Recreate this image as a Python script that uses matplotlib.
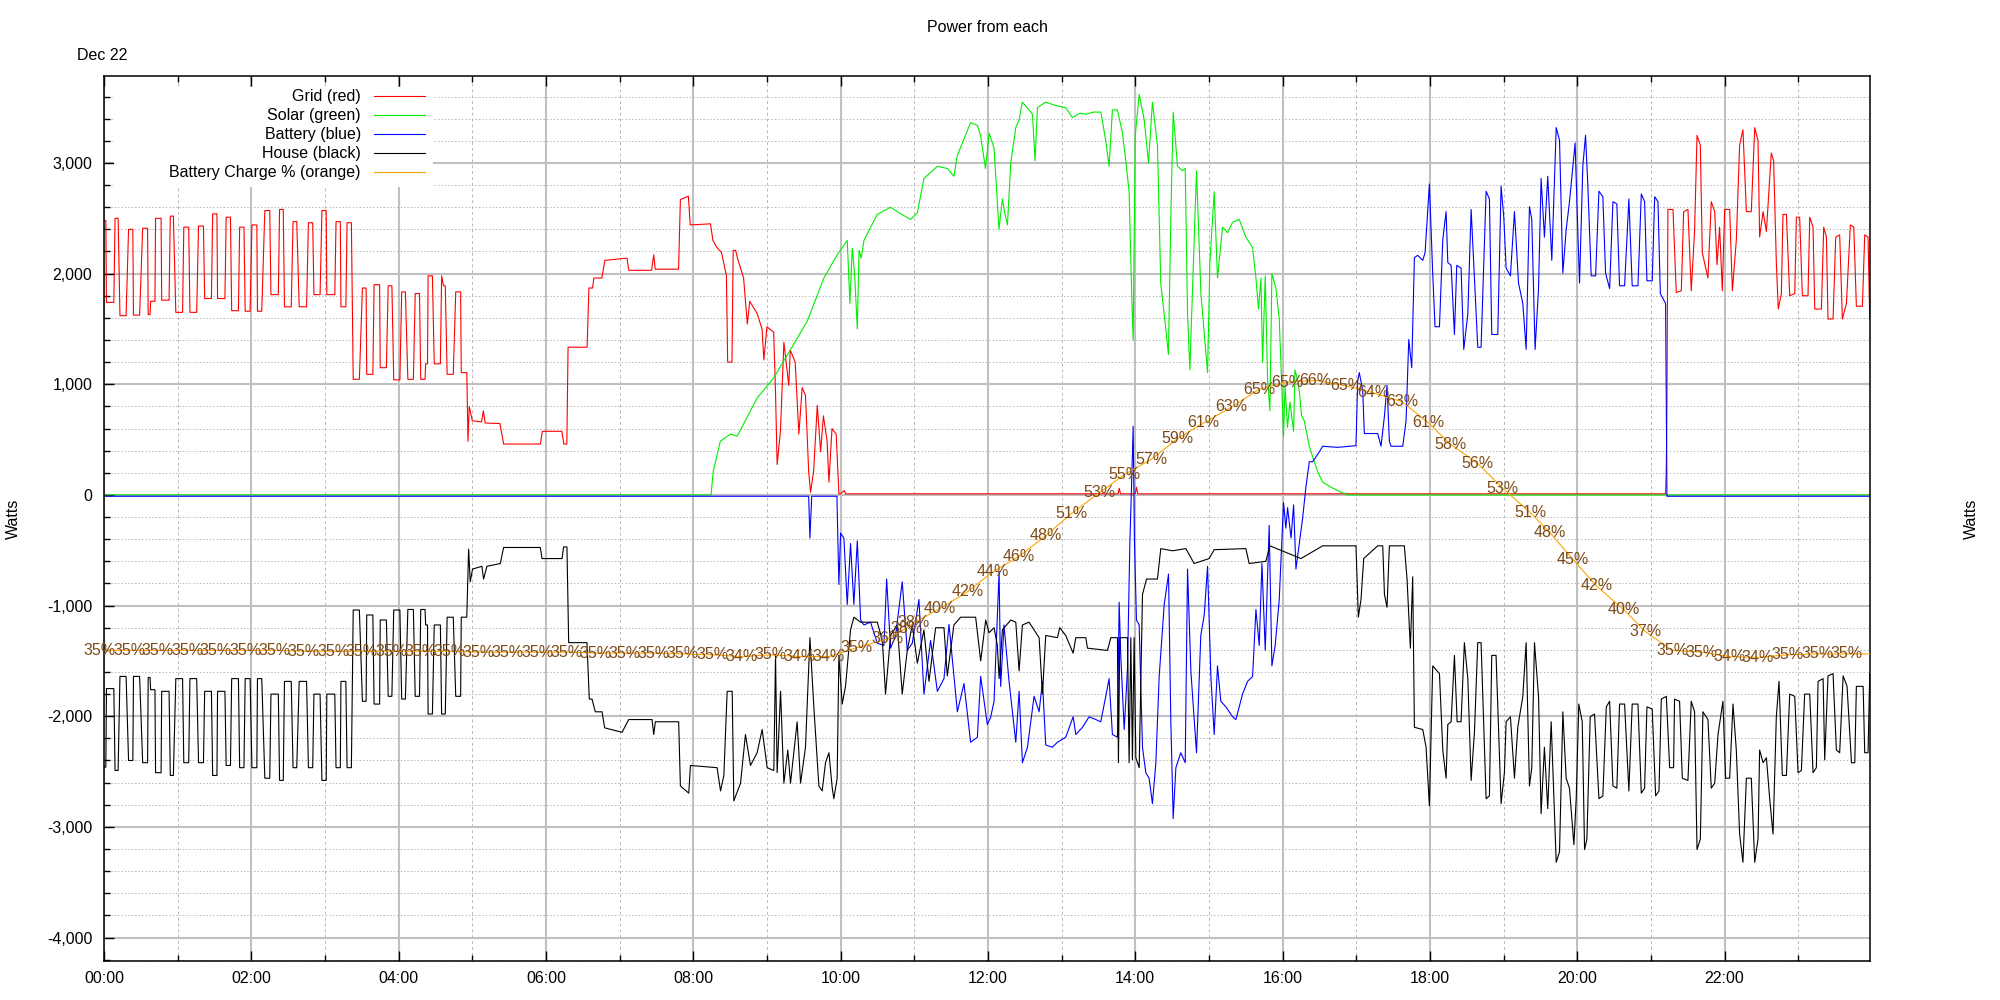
import numpy as np
import matplotlib.pyplot as plt
from matplotlib.ticker import MultipleLocator, FuncFormatter
from matplotlib.patches import Rectangle

plt.rcParams['font.family'] = ['Liberation Sans', 'DejaVu Sans']
plt.rcParams['font.size'] = 11.5

# power series: (minute of day, watts)
grid_pts = [
    (0, 2480), (1.5, 2480), (2, 1740), (8, 1740), (9, 2500), (11.5, 2500), (13, 1620), (18, 1620),
    (20, 2400), (23.5, 2400), (24, 1625), (29, 1625), (31.5, 2410), (35.5, 2410), (36, 1630), (37.5, 1630),
    (38, 1750), (41.5, 1750), (42, 2500), (46.5, 2500), (47, 1760), (53, 1760), (54, 2520), (56.5, 2520),
    (58.5, 1650), (64, 1650), (65, 2420), (69, 2420), (70, 1650), (75.5, 1650), (77, 2430), (81, 2430),
    (82, 1775), (87.5, 1775), (88.5, 2540), (92, 2540), (92.5, 1775), (98.5, 1775), (99.5, 2510), (103, 2510),
    (104, 1665), (109.5, 1665), (110.5, 2420), (114, 2420), (115, 1660), (119, 1660), (120.5, 2440), (124.5, 2440),
    (125, 1660), (128.5, 1660), (131, 2570), (135, 2570), (136, 1810), (142, 1810), (143, 2580), (146, 2580),
    (147, 1700), (152.5, 1700), (154, 2470), (157, 2470), (159, 1700), (165, 1700), (166.5, 2460), (170, 2460),
    (171, 1810), (176, 1810), (177.5, 2570), (181, 2570), (181.5, 1810), (188, 1810), (189, 2470), (192.5, 2470),
    (193, 1700), (197, 1700), (198, 2460), (201.5, 2460), (203, 1045), (208, 1045), (210.5, 1870), (213.5, 1870),
    (214, 1090), (219, 1090), (220, 1900), (224.5, 1900), (225, 1150), (230, 1150), (231.5, 1890), (234.5, 1890),
    (236, 1040), (241, 1040), (242.5, 1835), (245.5, 1835), (247.5, 1045), (252, 1045), (253.5, 1820), (257, 1820),
    (258, 1045), (261.5, 1045), (262, 1185), (263.5, 1185), (264, 1980), (267.5, 1980), (269, 1185), (274, 1185),
    (275, 1980), (276.5, 1890), (278, 1890), (279.5, 1090), (284.5, 1090), (286.5, 1835), (290.5, 1835), (291, 1105),
    (295.5, 1105), (296.5, 485), (297.5, 800), (300, 670), (307.5, 660), (309, 760), (310.5, 650), (322.5, 645),
    (325.5, 460), (355.5, 460), (357, 575), (373, 575), (374.5, 460), (377, 460), (378, 1335), (393.5, 1335),
    (395, 1870), (398, 1870), (399, 1960), (405.5, 1960), (408, 2120), (426, 2140), (427.5, 2030), (446, 2030),
    (447.8, 2170), (449, 2040), (468, 2040), (469.5, 2670), (476, 2700), (477.5, 2440), (494, 2450), (496, 2300),
    (499, 2240), (503, 2190), (507, 1980), (508, 1200), (511.5, 1200), (512.5, 2210), (514.5, 2210), (516, 2140),
    (521, 1960), (524, 1545), (526, 1750), (532, 1640), (536, 1500), (537.5, 1220), (540, 1520), (545.5, 1470),
    (547, 920), (548.3, 275), (551, 575), (553.8, 1380), (557.8, 990), (559, 1310), (563, 1200), (566, 550),
    (568.7, 970), (571.4, 900), (574, 210), (575.5, 25), (578, 210), (581, 810), (583.7, 390), (586, 715),
    (589, 485), (590.5, 115), (593, 600), (596.4, 550), (598.6, 10), (600, 10), (603, 40), (604, 10),
    (826, 10), (827, 60), (828, 10), (840, 10), (841, 70), (842, 10), (1272, 10),
    (1272.6, 275), (1273.1, 830), (1273.9, 2580), (1278, 2580), (1280.7, 1830), (1284.8, 1845), (1286.7, 2560),
    (1290.2, 2580), (1292.9, 1845), (1295.6, 2380), (1297.6, 3250), (1300.3, 3160), (1301.9, 2190), (1306.5, 1960),
    (1309.2, 2650), (1312, 2560), (1313.9, 2080), (1316, 2420), (1318.2, 1845), (1320.1, 2580), (1324.2, 2580),
    (1326.4, 1845), (1329.6, 2300), (1332.3, 3160), (1335, 3300), (1337.8, 2560), (1341.8, 2560), (1344.6, 3320),
    (1347.3, 3200), (1348.6, 2330), (1351.4, 2560), (1354.1, 2380), (1358.1, 3090), (1360, 3020), (1362.2, 2100),
    (1363.8, 1680), (1366.3, 1820), (1367.6, 2535), (1370.4, 2535), (1373.1, 1800), (1377.2, 1820), (1378.5, 2510),
    (1381.2, 2510), (1383.4, 1800), (1388, 1800), (1389.4, 2510), (1392.1, 2420), (1393.5, 1680), (1398.9, 1680),
    (1400.8, 2420), (1403, 2330), (1404.3, 1590), (1408.4, 1590), (1410.6, 2330), (1413.8, 2350), (1416, 1590),
    (1419.3, 1730), (1422.5, 2440), (1425.3, 2420), (1427.4, 1705), (1432.3, 1705), (1434.2, 2350), (1436.9, 2330),
    (1438.3, 1590), (1440, 1590),
]

solar_pts = [
    (0, 0), (494.5, 0), (496.2, 210), (502, 485), (510.3, 550), (515.7, 530), (532, 875), (545.6, 1060),
    (559, 1310), (572.8, 1570), (586.4, 1960), (597.2, 2170), (605.4, 2300), (607.6, 1730), (609.5, 2230),
    (611.4, 2000), (613.6, 1500), (615, 2210), (616.8, 2140), (619, 2300), (629.8, 2535), (640.7, 2600),
    (647.5, 2550), (657, 2490), (662.5, 2550), (667.9, 2860), (678.8, 2970), (687, 2950), (692.3, 2880),
    (695, 3065), (705.9, 3365), (711.4, 3340), (714, 3250), (718, 2950), (721, 3270), (725, 3135), (729, 2400),
    (731.8, 2675), (733.5, 2560), (735.9, 2440), (738.6, 3000), (742.7, 3320), (745.4, 3390), (748, 3550),
    (753.5, 3480), (756.3, 3440), (758.4, 3020), (760.3, 3500), (767, 3550), (775, 3520), (783.4, 3500),
    (788.8, 3410), (795, 3450), (799.7, 3440), (806, 3460), (812, 3460), (816, 3200), (818.7, 2970),
    (821.4, 3480), (825.5, 3480), (829.6, 3270), (832.3, 3020), (835, 2740), (837.2, 1775), (838.3, 1400),
    (840, 3250), (843.2, 3620), (847.3, 3390), (850.8, 3000), (854, 3550), (858.1, 3160), (860.8, 1910),
    (864.9, 1500), (867, 1270), (869, 2510), (870.9, 3460), (874.4, 2970), (878.5, 2930), (880.7, 2950),
    (882.6, 1640), (884.5, 1130), (886.7, 1870), (889.9, 2930), (893.5, 1820), (898.9, 1105), (900.8, 2100),
    (904.3, 2740), (907, 1960), (911.1, 2420), (915.2, 2370), (919.3, 2465), (924.7, 2490), (930.1, 2330),
    (935.6, 2235), (938.3, 1960), (940.4, 1680), (942.4, 1960), (943.7, 1200), (945.9, 1980), (947.8, 1040),
    (949.7, 760), (951.3, 2000), (954.6, 1870), (957.3, 1590), (959.5, 945), (960.8, 530), (962, 990),
    (964, 610), (966, 840), (969, 575), (970.1, 1130), (971.7, 1060), (973.6, 945), (975.5, 715), (977.7, 670),
    (981.8, 440), (984.5, 345), (988.6, 210), (992.7, 115), (999.5, 70), (1007.6, 25), (1013, 0), (1440, 0),
]

batt_pts = [
    (0, -12), (574, -12), (575, -390), (576.5, -12), (597, -12), (598.6, -810), (600, -345), (602.7, -390),
    (605.4, -990), (608.1, -440), (610.8, -990), (613.6, -415), (616.3, -1130), (619, -1175), (624.4, -1150),
    (629.9, -1340), (635.3, -1360), (637.5, -760), (640.7, -1385), (644.8, -1270), (650.2, -785), (654.3, -1405),
    (658.4, -1340), (663.8, -945), (667.9, -1800), (673.3, -1315), (678.8, -1775), (684.2, -1660), (688.3, -1170),
    (695.1, -1960), (700.5, -1705), (705.9, -2235), (711.4, -2190), (714.1, -1640), (719.5, -2075), (722.2, -2010),
    (725, -1865), (729.1, -690), (730.4, -1730), (733.1, -1175), (737.2, -1685), (742.7, -2235), (745.4, -1775),
    (748.1, -2420), (752.2, -2280), (757.6, -1820), (761.7, -1960), (764.4, -1685), (767.1, -2260), (772.5, -2280),
    (776.6, -2235), (783.4, -2190), (789.4, -2005), (791.6, -2165), (797, -2100), (802.4, -2005), (807.9, -2030),
    (811.9, -2050), (816, -1820), (818.7, -1660), (821.4, -2165), (825.5, -2190), (826.9, -970), (828.2, -1450),
    (831, -2120), (833.7, -1565), (835.6, -440), (837.2, 160), (838.3, 620), (839.4, -440), (841, -1130),
    (843.2, -1175), (845.9, -2280), (848.6, -2510), (851.3, -2560), (854, -2790), (856.8, -2420), (859.5, -1640),
    (863.6, -990), (867.1, -715), (869, -2050), (870.9, -2925), (873.1, -2465), (877.1, -2330), (880.7, -2420),
    (882.6, -670), (885.3, -1590), (889.9, -2330), (893.4, -1270), (896.2, -1085), (898.9, -645), (901.6, -1640),
    (904.3, -2165), (907, -1545), (909.7, -1865), (913.8, -1915), (919.3, -2005), (922, -2030), (927.4, -1800),
    (931.5, -1685), (935.6, -1640), (938.3, -1035), (941, -1360), (943.2, -620), (945.9, -1405), (949.1, -275),
    (951.3, -1545), (954, -1360), (957.3, -945), (960.8, -70), (962.7, -300), (964.1, -115), (966.9, -390),
    (969, -90), (970.9, -670), (973.6, -440), (976.4, -205), (979, 70), (981.8, 300), (984.5, 300), (987.2, 345),
    (990, 390), (992.7, 440), (1004.9, 430), (1019.8, 445), (1021.2, 1035), (1022.5, 1105), (1025.3, 945),
    (1026.6, 555), (1037.5, 555), (1040.2, 440), (1043, 715), (1045.1, 990), (1047, 485), (1048.4, 440),
    (1057.9, 440), (1060.6, 670), (1062.8, 1405), (1065.2, 1150), (1067.4, 2145), (1070.1, 2165), (1074.2, 2120),
    (1076.1, 2190), (1078.2, 2560), (1079.6, 2810), (1082.3, 2005), (1084.2, 1520), (1087.8, 1520), (1090.5, 2305),
    (1093.2, 2560), (1094.6, 2100), (1097.3, 2075), (1100, 1450), (1101.9, 2075), (1105.4, 2050), (1107.6, 1315),
    (1110.9, 1635), (1113.6, 2580), (1115.7, 2100), (1119, 1335), (1121.7, 1335), (1125.8, 2745), (1128.5, 2675),
    (1130.4, 1450), (1135.3, 1450), (1138, 2790), (1140.2, 2510), (1142.1, 2050), (1145.6, 1980), (1148.9, 2560),
    (1152.2, 1915), (1155.7, 1730), (1158.4, 1315), (1161.1, 2605), (1163, 2490), (1165.7, 1315), (1168.5, 1865),
    (1170.6, 2860), (1173.3, 2330), (1176, 2880), (1179.3, 2120), (1182.9, 3320), (1185.6, 3205), (1188.3, 2005),
    (1191, 2395), (1193.7, 2650), (1198.3, 3180), (1200.5, 2375), (1201.9, 1915), (1204.6, 2975), (1206.8, 3250),
    (1208.7, 2790), (1211.4, 1980), (1215, 1980), (1217.7, 2745), (1220.9, 2695), (1223.1, 2005), (1226.4, 1865),
    (1229.1, 2650), (1232.3, 2630), (1234.5, 1890), (1238.6, 1890), (1242.1, 2675), (1244.8, 1890), (1249.5, 1890),
    (1252.2, 2720), (1254.9, 2650), (1256.8, 1935), (1261.1, 1935), (1263.1, 2695), (1265.8, 2650), (1267.7, 1820),
    (1272, 1730), (1273.1, -12), (1440, -12),
]

house_pts = [
    (0, -2460), (1.5, -2460), (2, -1750), (8, -1750), (9, -2490), (11.5, -2490), (13, -1640), (18, -1640),
    (20, -2400), (23.5, -2400), (24, -1640), (29, -1640), (31.5, -2420), (35.5, -2420), (36, -1650), (37.5, -1650),
    (38, -1760), (41.5, -1760), (42, -2510), (46.5, -2510), (47, -1775), (53, -1775), (54, -2535), (56.5, -2535),
    (58.5, -1660), (64, -1660), (65, -2420), (69, -2420), (70, -1660), (75.5, -1660), (77, -2420), (81, -2420),
    (82, -1775), (87.5, -1775), (88.5, -2535), (92, -2535), (92.5, -1775), (98.5, -1775), (99.5, -2445), (103, -2445),
    (104, -1660), (109.5, -1660), (110.5, -2465), (114, -2465), (115, -1660), (119, -1660), (120.5, -2465), (124.5, -2465),
    (125, -1660), (128.5, -1660), (131, -2560), (135, -2560), (136, -1800), (142, -1800), (143, -2580), (146, -2580),
    (147, -1685), (152.5, -1685), (154, -2465), (157, -2465), (159, -1685), (165, -1685), (166.5, -2465), (170, -2465),
    (171, -1800), (176, -1800), (177.5, -2580), (181, -2580), (181.5, -1800), (188, -1800), (189, -2465), (192.5, -2465),
    (193, -1685), (197, -1685), (198, -2465), (201.5, -2465), (203, -1040), (208, -1040), (210.5, -1865), (213.5, -1865),
    (214, -1085), (219, -1085), (220, -1890), (224.5, -1890), (225, -1130), (230, -1130), (231.5, -1820), (234.5, -1820),
    (236, -1040), (241, -1040), (242.5, -1845), (245.5, -1845), (247.5, -1035), (252, -1035), (253.5, -1820), (257, -1820),
    (258, -1035), (261.5, -1035), (262, -1175), (263.5, -1175), (264, -1980), (267.5, -1980), (269, -1175), (274, -1175),
    (275, -1980), (278, -1980), (279.5, -1105), (284.5, -1105), (286.5, -1820), (290.5, -1820), (291, -1105), (295.5, -1105),
    (297, -490), (298.3, -785), (300.2, -670), (307.8, -645), (309.2, -760), (311.9, -645), (322.8, -620), (325.5, -475),
    (355.4, -475), (356.8, -575), (373.1, -575), (374.4, -470), (377.1, -470), (378.5, -1335), (393.4, -1335), (395.3, -1845),
    (397.5, -1845), (400.2, -1960), (405.7, -1960), (407.8, -2105), (422, -2145), (427.4, -2030), (446.4, -2030), (447.8, -2165),
    (449.1, -2050), (468.1, -2050), (469.5, -2630), (476.3, -2695), (477.7, -2445), (499.4, -2465), (502.2, -2675), (504.9, -2535),
    (507.6, -1775), (511.7, -1775), (513, -2765), (518.5, -2605), (522.5, -2165), (526.6, -2445), (532, -2330), (536.1, -2120),
    (540.2, -2465), (545.6, -2490), (547, -1450), (548.3, -2510), (551.1, -1775), (553.8, -2605), (557, -2305), (559.2, -2605),
    (564.6, -2050), (567.4, -2605), (571.4, -2280), (575, -1290), (578.2, -1915), (582.3, -2630), (585, -2675), (587.7, -2420),
    (590.5, -2330), (593.2, -2650), (594.5, -2745), (597.2, -2560), (598.6, -1450), (601.3, -1890), (604, -1730), (608.1, -1220),
    (610.8, -1105), (616.3, -1150), (629.9, -1150), (634, -1315), (636.6, -1800), (640.7, -1270), (646.2, -1175), (650.2, -1800),
    (654.3, -1405), (658.4, -1175), (662.5, -1520), (667.9, -1220), (672, -1685), (677.4, -1200), (684.2, -1200), (686.9, -1635),
    (692.3, -1175), (697.8, -1105), (710, -1105), (714.1, -1500), (718.2, -1130), (720.9, -1245), (725, -1200), (727.7, -1360),
    (729.1, -1660), (731.8, -1220), (738.6, -1130), (742.7, -1150), (745.4, -1590), (748.1, -1175), (753.5, -1150), (761.7, -1290),
    (764.4, -1800), (767.1, -1270), (776.6, -1290), (778.5, -1200), (783.4, -1270), (789.4, -1430), (791.6, -1290), (799.7, -1290),
    (801.1, -1385), (817.4, -1405), (820.1, -1290), (825.5, -1290), (826.3, -2420), (827.4, -1290), (833.7, -1290), (835, -2420),
    (836.4, -1290), (837.7, -2395), (839.1, -1290), (840.5, -2375), (843.2, -2465), (845.9, -900), (849.2, -760), (858.1, -760),
    (860.8, -485), (870.4, -505), (881.2, -485), (888, -620), (900.2, -575), (904.3, -495), (930.1, -485), (932.8, -620),
    (946.4, -600), (949.7, -460), (975, -575), (992.7, -460), (1019.8, -460), (1021.7, -1105), (1023.9, -945), (1026.1, -575),
    (1037.5, -460), (1041.6, -460), (1043, -900), (1045.1, -1015), (1047, -460), (1059.2, -460), (1061.4, -760), (1064.1, -1385),
    (1066, -740), (1067.4, -2100), (1074.2, -2120), (1076.9, -2280), (1079.6, -2810), (1082.3, -1545), (1087.8, -1615), (1090.5, -2305),
    (1093.2, -2560), (1094.6, -2075), (1097.3, -2050), (1100, -1450), (1102.2, -2050), (1105.4, -2050), (1108.1, -1335), (1110.9, -1660),
    (1113.6, -2580), (1116.3, -2145), (1119, -1335), (1121.7, -1335), (1125.8, -2745), (1128.5, -2720), (1130.4, -1450), (1133.9, -1450),
    (1138, -2790), (1140.7, -2510), (1142.1, -2050), (1145.6, -2005), (1148.9, -2560), (1151.6, -2100), (1155.7, -1820), (1158.4, -1335),
    (1161.1, -2630), (1163, -2465), (1165.2, -1335), (1168.5, -1820), (1170.6, -2880), (1173.3, -2280), (1176, -2835), (1178.8, -2050),
    (1182.9, -3320), (1185.6, -3225), (1188.3, -1960), (1191, -2560), (1193.7, -2650), (1197.3, -3160), (1199.2, -2745), (1201.3, -1890),
    (1204.1, -2050), (1206, -3205), (1207.9, -3110), (1210.6, -2005), (1214.1, -1980), (1217.7, -2745), (1220.9, -2720), (1223.7, -1915),
    (1226.4, -1865), (1229.1, -2630), (1232.3, -2650), (1234.5, -1890), (1238.6, -1890), (1242.1, -2675), (1244.8, -1890), (1249.5, -1890),
    (1252.2, -2695), (1254.9, -2650), (1256.8, -1915), (1261.1, -1935), (1263.9, -2720), (1266.6, -2675), (1268.5, -1845), (1272.6, -1820),
    (1275.3, -2465), (1278.5, -2465), (1279.3, -1845), (1283.4, -1865), (1285.6, -2560), (1290.2, -2580), (1292.9, -1865), (1295.6, -1960),
    (1297.6, -3205), (1300.3, -3110), (1302.4, -1960), (1306.5, -2030), (1309.2, -2650), (1312, -2605), (1314.7, -2165), (1317.4, -1960),
    (1318.7, -1865), (1320.9, -2560), (1324.2, -2560), (1326.9, -1890), (1329.6, -2305), (1332.3, -3065), (1335, -3320), (1337.8, -2560),
    (1341.8, -2560), (1344.6, -3320), (1347.3, -3110), (1348.6, -2305), (1351.4, -2420), (1354.1, -2375), (1356.8, -2745), (1359.5, -3065),
    (1362.2, -2005), (1364.4, -1685), (1367.1, -2535), (1370.4, -2535), (1373.1, -1800), (1377.2, -1820), (1379.9, -2510), (1382.6, -2490),
    (1385.3, -1800), (1389.4, -1800), (1392.1, -2510), (1394.8, -2465), (1396.2, -1685), (1400.3, -1660), (1401.6, -2395), (1404.3, -1635),
    (1408.4, -1615), (1411.1, -2305), (1413.8, -2330), (1416.6, -1635), (1419.8, -1730), (1423.4, -2420), (1426.1, -2420), (1427.4, -1730),
    (1432.9, -1730), (1434.2, -2330), (1436.9, -2330), (1438.3, -1615), (1440, -1635),
]

# battery charge: hour of day, percent (last point unlabelled)
charge_h = [-0.06, 0.34, 0.73, 1.13, 1.52, 1.92, 2.32, 2.71, 3.11, 3.50, 3.90, 4.30, 4.69, 5.09,
            5.48, 5.88, 6.28, 6.67, 7.07, 7.46, 7.86, 8.26, 8.65, 9.05, 9.44, 9.84, 10.22,
            10.64, 10.89, 10.99, 11.34, 11.72, 12.07, 12.42, 12.79, 13.14, 13.51, 13.86, 14.22,
            14.57, 14.93, 15.31, 15.68, 16.06, 16.45, 16.86, 17.23, 17.62, 17.98, 18.28, 18.65,
            18.99, 19.36, 19.63, 19.94, 20.26, 20.63, 20.93, 21.29, 21.69, 22.07, 22.45, 22.85,
            23.26, 23.65, 24.05]
charge_pct = [35.1, 35.1, 35.1, 35.1, 35.1, 35.1, 35.1, 35.0, 35.0, 35.0, 35.0, 35.0, 35.0, 34.9,
              34.9, 34.9, 34.9, 34.8, 34.8, 34.8, 34.7, 34.6, 34.4, 34.6, 34.4, 34.4, 35.4,
              36.4, 37.6, 38.2, 39.8, 41.7, 44.0, 45.7, 48.1, 50.6, 52.9, 55.0, 56.7,
              59.0, 60.8, 62.6, 64.6, 65.4, 65.6, 65.0, 64.2, 63.2, 60.8, 58.4, 56.2,
              53.4, 50.7, 48.4, 45.4, 42.4, 39.7, 37.2, 35.1, 34.9, 34.4, 34.3, 34.6,
              34.7, 34.7, 34.7]

series = [
    (grid_pts, '#ff0000', 'Grid (red)'),
    (solar_pts, '#00ee00', 'Solar (green)'),
    (batt_pts, '#0000ff', 'Battery (blue)'),
    (house_pts, '#000000', 'House (black)'),
]
charge_color = '#ffa500'
label_color = '#7d4a17'

fig = plt.figure(figsize=(20, 10), dpi=100)
ax = fig.add_axes([0.052, 0.039, 0.883, 0.885])

for pts, col, lab in series:
    t, w = zip(*pts)
    ax.plot(t, w, color=col, lw=0.8, zorder=2)

ax.set_xlim(0, 1438.5)
ax.set_ylim(-4212, 3786)
ax.xaxis.set_major_locator(MultipleLocator(120))
ax.xaxis.set_minor_locator(MultipleLocator(60))
ax.xaxis.set_major_formatter(FuncFormatter(lambda v, p: '%02d:00' % (v // 60)))
ax.yaxis.set_major_locator(MultipleLocator(1000))
ax.yaxis.set_minor_locator(MultipleLocator(200))
ax.yaxis.set_major_formatter(FuncFormatter(lambda v, p: f'{v:,.0f}'))

ax.set_axisbelow(True)
ax.grid(which='major', color='#c0c0c0', lw=1.5, ls='-')
ax.grid(which='minor', axis='y', color='#b8b8b8', lw=0.7, ls=(0, (1.5, 2)))
ax.grid(which='minor', axis='x', color='#b8b8b8', lw=0.7, ls=(0, (3, 3)))
ax.tick_params(which='both', direction='in', top=True, right=True, labelright=True, width=1)
ax.tick_params(which='major', length=7.5)
ax.tick_params(which='minor', length=4)
ax.tick_params(axis='y', pad=8.5)
ax.tick_params(axis='x', pad=7)
for s in ax.spines.values():
    s.set_linewidth(1.1)

# legend in gnuplot style: white box, right-aligned text, sample line to the right
ax.add_patch(Rectangle((0.0057, 0.8746), 0.1806, 0.113, transform=ax.transAxes,
                       facecolor='white', edgecolor='none', zorder=1))
legend_rows = [lab for _, _, lab in series] + ['Battery Charge % (orange)']
legend_cols = [col for _, col, _ in series] + [charge_color]
for i, (lab, col) in enumerate(zip(legend_rows, legend_cols)):
    y = 0.9774 - i * 0.02147
    ax.text(0.1455, y, lab, transform=ax.transAxes, ha='right', va='center', zorder=3)
    ax.plot([0.1529, 0.1818], [y, y], transform=ax.transAxes, color=col, lw=0.8, zorder=3)

# battery charge on a hidden 0-100 % axis
ax2 = ax.twinx()
ax2.set_ylim(0, 100)
ax2.axis('off')
ch_min = np.array(charge_h) * 60
ax2.plot(ch_min, charge_pct, color=charge_color, lw=0.8)
for m, p in zip(ch_min[:-1], charge_pct[:-1]):
    ax2.text(m, p, f'{p:.0f}%', ha='center', va='center', color=label_color,
             fontsize=11.5, clip_on=False)
ax.set_xlim(0, 1438.5)

fig.text(0.4935, 0.973, 'Power from each', ha='center', va='center')
fig.text(0.0385, 0.944, 'Dec 22', ha='left', va='center')
fig.text(0.0065, 0.4815, 'Watts', rotation=90, ha='center', va='center')
fig.text(0.9855, 0.4815, 'Watts', rotation=90, ha='center', va='center')

fig.savefig('out.png', dpi=100)
